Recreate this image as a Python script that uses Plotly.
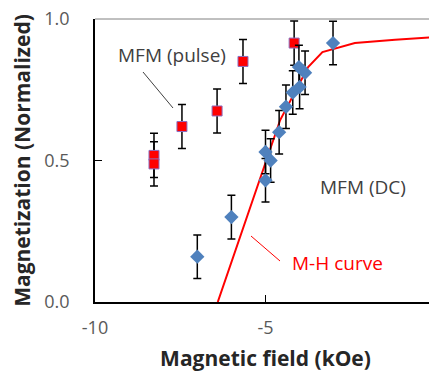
import plotly.graph_objects as go

# M-H curve (red line)
mh_x = [-6.4, -4.57, -3.75, -3.33, -2.38, -1.2, 0.0]
mh_y = [0.0, 0.643, 0.83, 0.883, 0.915, 0.927, 0.936]

# MFM (pulse): red squares
pulse_x = [-8.27, -8.27, -7.45, -6.42, -5.66, -4.16]
pulse_y = [0.518, 0.488, 0.62, 0.675, 0.85, 0.915]
pulse_err = [0.078, 0.078, 0.078, 0.078, 0.078, 0.078]

# MFM (DC): blue diamonds
dc_x = [-7.0, -6.0, -5.0, -5.0, -4.85, -4.6, -4.4, -4.2, -4.0, -4.02, -3.84, -3.02]
dc_y = [0.16, 0.30, 0.43, 0.53, 0.50, 0.60, 0.69, 0.74, 0.76, 0.83, 0.81, 0.915]
dc_err = [0.077] * 12

x_ticks = [-10, -5, 0]
x_tick_text = ["-10", "-5", "0"]
y_ticks = [0.0, 0.5, 1.0]
y_tick_text = ["0.0", "0.5", "1.0"]

FONT = "Open Sans"
fig = go.Figure()

fig.add_trace(go.Scatter(
    x=mh_x, y=mh_y, mode="lines",
    line=dict(color="#FF0000", width=2), showlegend=False, hoverinfo="skip"))

fig.add_trace(go.Scatter(
    x=pulse_x, y=pulse_y, mode="markers",
    marker=dict(symbol="square", size=10, color="#FF0000",
                line=dict(color="#8C6EC0", width=1)),
    error_y=dict(type="data", array=pulse_err, visible=True,
                 color="black", thickness=1.5, width=4),
    showlegend=False))

fig.add_trace(go.Scatter(
    x=dc_x, y=dc_y, mode="markers",
    marker=dict(symbol="diamond", size=11, color="#4F81BD",
                line=dict(width=0)),
    error_y=dict(type="data", array=dc_err, visible=True,
                 color="black", thickness=1.5, width=4),
    showlegend=False))

def px2x(p):
    return (p - 95) / 34.1 - 10

def py2y(p):
    return (302 - p) / 283

# leader lines
fig.add_shape(type="line", x0=px2x(143), y0=py2y(72), x1=px2x(173), y1=py2y(108),
              line=dict(color="#404040", width=1))
fig.add_shape(type="line", x0=px2x(251), y0=py2y(236), x1=px2x(280), y1=py2y(261),
              line=dict(color="#FF0000", width=1))

# plot area frame (top/right)
fig.add_shape(type="line", xref="paper", yref="paper", x0=0, y0=1, x1=1, y1=1,
              line=dict(color="#808080", width=1), layer="above")
fig.add_shape(type="line", xref="paper", yref="paper", x0=1, y0=0, x1=1, y1=1,
              line=dict(color="#404040", width=1.5), layer="above")

fig.add_annotation(x=px2x(172), y=py2y(55), text="MFM (pulse)", showarrow=False,
                   font=dict(family=FONT, size=19, color="#404040"))
fig.add_annotation(x=px2x(363), y=py2y(187), text="MFM (DC)", showarrow=False,
                   font=dict(family=FONT, size=19, color="#404040"))
fig.add_annotation(x=px2x(337), y=py2y(263), text="M-H curve", showarrow=False,
                   font=dict(family=FONT, size=19, color="#FF0000"))

# page body has an 8px margin, so the figure is sized/offset to fit the window
fig.update_layout(
    width=429, height=364,
    margin=dict(l=87, r=1, t=11, b=70, autoexpand=False),
    paper_bgcolor="white", plot_bgcolor="white",
    font=dict(family=FONT, color="#595959"),
    xaxis=dict(range=[-10, 0], tickvals=x_ticks, ticktext=x_tick_text,
               ticks="inside", ticklen=7, automargin=False,
               ticklabeloverflow="allow",
               tickcolor="black", showline=True, linecolor="black", linewidth=1.5,
               showgrid=False, zeroline=False, tickfont=dict(size=18, color="#595959"),
               ticklabelstandoff=9,
               title=dict(text="<b>Magnetic field (kOe)</b>", standoff=14,
                          font=dict(family=FONT, size=21, color="#262626"))),
    yaxis=dict(range=[0, 1], tickvals=y_ticks, ticktext=y_tick_text, ticks="inside",
               ticklen=7, tickcolor="black", showline=True, linecolor="black",
               linewidth=1.5, showgrid=False, zeroline=False, automargin=False,
               ticklabeloverflow="allow",
               tickfont=dict(size=18, color="#595959"), ticklabelstandoff=20,
               title=dict(text="<b>Magnetization (Normalized)</b>", standoff=10,
                          font=dict(family=FONT, size=21, color="#262626"))),
)

fig.write_html("out.html")
